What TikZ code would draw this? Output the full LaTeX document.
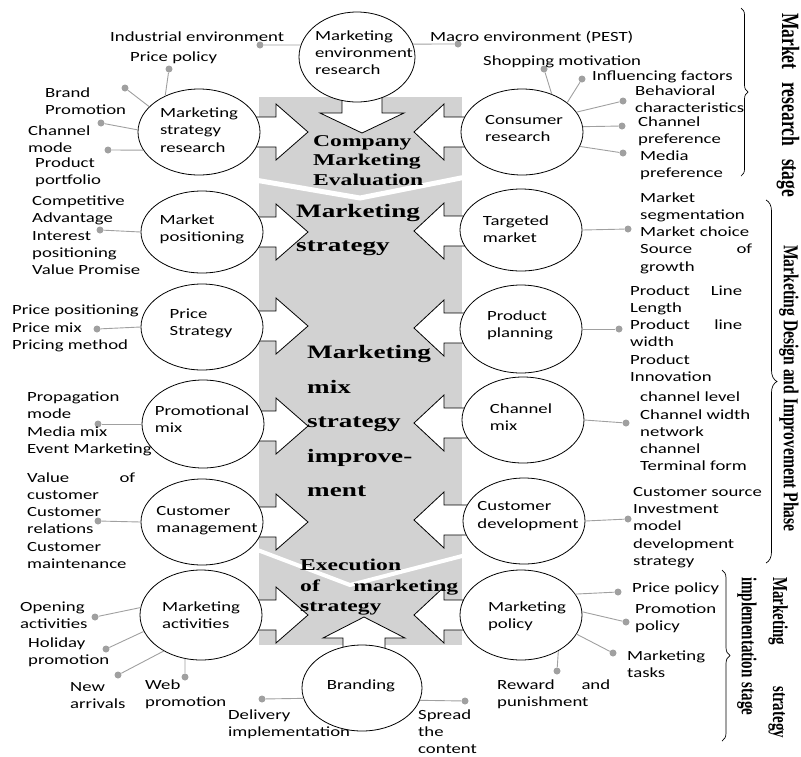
\documentclass[tikz,border=0pt]{standalone}
\usepackage{fontspec}
\usetikzlibrary{shapes.geometric,decorations.pathreplacing}

\newfontfamily\labelfont{Carlito}[FakeStretch=1.34]
\newfontfamily\stagefont{Liberation Serif}[FakeStretch=1.43]
\newfontfamily\sidefont{Liberation Serif}

\definecolor{bandgray}{RGB}{210,210,210}
\definecolor{dotgray}{RGB}{160,160,160}

\tikzset{
  circ/.style={ellipse, draw, fill=white, line width=0.8pt, minimum width=122pt, minimum height=86pt, inner sep=0pt},
  intext/.style={inner sep=0pt, align=left, font=\labelfont\fontsize{14}{17.3}\selectfont},
  lab/.style={anchor=west, inner sep=0pt, align=left, font=\labelfont\fontsize{14}{17.3}\selectfont},
  greydot/.style={circle, fill=dotgray, inner sep=0pt, minimum size=7pt},
  leader/.style={draw=dotgray, line width=0.9pt},
  blockarrow/.style={draw, fill=white, line width=0.8pt},
  stage/.style={anchor=west, inner sep=0pt, align=left},
  side/.style={inner sep=0pt, align=left},
  bracepen/.style={decorate, line width=0.7pt}
}

% block arrows into the band, #1 = row height
\newcommand\rowarrowR[1]{\draw[blockarrow] (250,#1-15) -- (276,#1-15) -- (276,#1-28) -- (308,#1) -- (276,#1+28) -- (276,#1+15) -- (250,#1+15) -- cycle;}
\newcommand\rowarrowL[1]{\draw[blockarrow] (472,#1-15) -- (444,#1-15) -- (444,#1-28) -- (414,#1) -- (444,#1+28) -- (444,#1+15) -- (472,#1+15) -- cycle;}

\begin{document}
\begin{tikzpicture}[x=1pt,y=-1pt]
\useasboundingbox (0,0) rectangle (801,756);

% grey band
\fill[bandgray] (259,97) rectangle (462,645);
\draw[white, line width=5pt] (255,180) -- (360,198) -- (466,177);
\draw[white, line width=4pt] (255,549) -- (350,585) -- (466,555);

% arrows
\foreach \y in {132,232,326,426,522,615} \rowarrowR{\y};
\foreach \y in {132,231,328,423,520,615} \rowarrowL{\y};
\draw[blockarrow] (342,95) -- (342,113) -- (320,113) -- (362,133) -- (404,113) -- (382,113) -- (382,95) -- cycle;
\draw[blockarrow] (343,655) -- (343,638) -- (323,638) -- (364,617) -- (405,638) -- (385,638) -- (385,655) -- cycle;

% circles
\node[circ, minimum width=116pt, minimum height=90pt] (mer) at (357,57) {};
\node[circ] (msr) at (199,132) {};
\node[circ] (cr) at (522,132) {};
\node[circ, minimum height=82pt] (mp) at (202,232) {};
\node[circ, minimum height=82pt] (tm) at (521,230) {};
\node[circ] (ps) at (202,327) {};
\node[circ, minimum height=88pt] (pp) at (521,329) {};
\node[circ, minimum height=88pt] (pm) at (203,424) {};
\node[circ] (cm) at (523,420) {};
\node[circ] (cum) at (202,522) {};
\node[circ] (cd) at (524,521) {};
\node[circ, minimum height=90pt] (ma) at (201,615) {};
\node[circ, minimum height=90pt] (mpol) at (521,615) {};
\node[circ, minimum width=120pt] (br) at (362,688) {};

\node[intext] (mer-t) at (364,52.5) {Marketing\\environment\\research};
\node[intext] (msr-t) at (199,130) {Marketing\\strategy\\research};
\node[intext] (cr-t) at (524,128.5) {Consumer\\research};
\node[intext] (mp-t) at (202,229.5) {Market\\positioning};
\node[intext] (tm-t) at (516,229.5) {Targeted\\market};
\node[intext] (ps-t) at (201,323.5) {Price\\Strategy};
\node[intext] (pp-t) at (520,325.5) {Product\\planning};
\node[intext] (pm-t) at (202,419) {Promotional\\mix};
\node[intext] (cm-t) at (521,417) {Channel\\mix};
\node[intext] (cum-t) at (207,521) {Customer\\management};
\node[intext] (cd-t) at (528,516) {Customer\\development};
\node[intext] (ma-t) at (201,615) {Marketing\\activities};
\node[intext] (mpol-t) at (527,616.5) {Marketing\\policy};
\node[intext] (br-t) at (361,686) {Branding};

% dots and leaders
\node[greydot] (dInd) at (260,45) {};   \draw[leader] (dInd) -- (mer.168);
\node[greydot] (dMac) at (458,44) {};   \draw[leader] (dMac) -- (mer.13);
\node[greydot] (dPri) at (169,69) {};   \draw[leader] (dPri) -- (msr.133);
\node[greydot] (dBra) at (125,88) {};   \draw[leader] (dBra) -- (msr.153);
\node[greydot] (dCha) at (101,123) {};  \draw[leader] (dCha) -- (msr.178);
\node[greydot] (dPro) at (108,150) {};  \draw[leader] (dPro) -- (msr.198);
\node[greydot] (dSho) at (544,69) {};   \draw[leader] (dSho) -- (cr.52);
\node[greydot] (dInf) at (582,79) {};   \draw[leader] (dInf) -- (cr.33);
\node[greydot] (dBeh) at (623,101) {};  \draw[leader] (dBeh) -- (cr.20);
\node[greydot] (dChp) at (622,126) {};  \draw[leader] (dChp) -- (cr.5);
\node[greydot] (dMed) at (623,153) {};  \draw[leader] (dMed) -- (cr.346);
\node[greydot] (dMp) at (100,230) {};   \draw[leader] (dMp) -- (mp.180);
\node[greydot] (dTm) at (628,229) {};   \draw[leader] (dTm) -- (tm.0);
\node[greydot] (dPs) at (97,329) {};    \draw[leader] (dPs) -- (ps.180);
\node[greydot] (dPp) at (619,329) {};   \draw[leader] (dPp) -- (pp.0);
\node[greydot] (dPm) at (98,424) {};    \draw[leader] (dPm) -- (pm.180);
\node[greydot] (dCm) at (626,423) {};   \draw[leader] (dCm) -- (cm.0);
\node[greydot] (dCum) at (98,521) {};   \draw[leader] (dCum) -- (cum.180);
\node[greydot] (dCd) at (628,519) {};   \draw[leader] (dCd) -- (cd.0);
\node[greydot] (dOpe) at (95,617) {};   \draw[leader] (dOpe) -- (ma.173);
\node[greydot] (dHol) at (106,649) {};  \draw[leader] (dHol) -- (ma.196);
\node[greydot] (dNew) at (118,675) {};  \draw[leader] (dNew) -- (ma.224);
\node[greydot] (dWeb) at (185,677) {};  \draw[leader] (dWeb) -- (ma.250);
\node[greydot] (dDel) at (262,699) {};  \draw[leader] (dDel) -- (br.190);
\node[greydot] (dSpr) at (465,701) {};  \draw[leader] (dSpr) -- (br.348);
\node[greydot] (dPpo) at (618,592) {};  \draw[leader] (dPpo) -- (mpol.21);
\node[greydot] (dPrp) at (626,622) {};  \draw[leader] (dPrp) -- (mpol.3);
\node[greydot] (dTas) at (613,653) {};  \draw[leader] (dTas) -- (mpol.341);
\node[greydot] (dRew) at (557,671) {};  \draw[leader] (dRew) -- (mpol.316);

% outer labels
\node[lab] (tInd) at (110,37) {Industrial environment};
\node[lab] (tMac) at (430,37) {Macro environment (PEST)};
\node[lab] (tPri) at (130,58) {Price policy};
\node[lab] (tBra) at (45,101.5) {Brand\\Promotion};
\node[lab] (tCha) at (28,139.5) {Channel\\mode};
\node[lab] (tPro) at (35,172) {Product\\portfolio};
\node[lab] (tSho) at (483,62) {Shopping motivation};
\node[lab] (tInf) at (592,77) {Influencing factors};
\node[lab] (tBeh) at (635,99) {Behavioral\\characteristics};
\node[lab] (tChp) at (638,131) {Channel\\preference};
\node[lab] (tMed) at (640,165.5) {Media\\preference};
\node[lab] (tMp) at (32,235.5) {Competitive\\Advantage\\Interest\\positioning\\Value Promise};
\node[lab, text width=112pt] (tTm) at (640,233) {Market\\segmentation\\Market choice\\Source\hfill of\\growth};
\node[lab] (tPs) at (12,328.5) {Price positioning\\Price mix\\Pricing method};
\node[lab, text width=112pt] (tPp) at (630,333.5) {Product\hfill Line\\Length\\Product\hfill line\\width\\Product\\Innovation};
\node[lab] (tPm) at (27,424) {Propagation\\mode\\Media mix\\Event Marketing};
\node[lab] (tCm) at (640,431.5) {channel level\\Channel width\\network\\channel\\Terminal form};
\node[lab, text width=108pt] (tCum) at (27,520.5) {Value\hfill of\\customer\\Customer\\relations\\Customer\\maintenance};
\node[lab] (tCd) at (633,527.5) {Customer source\\Investment\\model\\development\\strategy};
\node[lab] (tOpe) at (20,615.5) {Opening\\activities};
\node[lab] (tHol) at (28,652.5) {Holiday\\promotion};
\node[lab] (tNew) at (70,695.5) {New\\arrivals};
\node[lab] (tWeb) at (145,694.5) {Web\\promotion};
\node[lab] (tDel) at (228,724.5) {Delivery\\implementation};
\node[lab] (tSpr) at (418,731.5) {Spread\\the\\content};
\node[lab] (tPpo) at (632,589) {Price policy};
\node[lab] (tPrp) at (635,618) {Promotion\\policy};
\node[lab] (tTas) at (627,664.5) {Marketing\\tasks};
\node[lab, text width=113pt] (tRew) at (497,694.5) {Reward\hfill and\\punishment};

% band texts
\node[stage, font=\stagefont\bfseries\fontsize{16.5}{19.5}\selectfont] (tEval) at (313,160.5) {Company\\Marketing\\Evaluation};
\node[stage, font=\stagefont\bfseries\fontsize{19}{34}\selectfont] (tStrat) at (296,230) {Marketing\\strategy};
\node[stage, font=\stagefont\bfseries\fontsize{19}{34.5}\selectfont] (tMix) at (307,421) {Marketing\\mix\\strategy\\improve-\\ment};
\node[stage, text width=158pt, font=\stagefont\bfseries\fontsize{16.5}{20.5}\selectfont] (tExec) at (300,587.5) {Execution\\of\hfill marketing\\strategy};

% stage braces
\draw[bracepen, decoration={brace, amplitude=7pt}] (741,8) -- (741,176);
\draw[bracepen, decoration={brace, amplitude=11pt}] (766,200) -- (766,563);
\draw[bracepen, decoration={brace, amplitude=8pt}] (722,570) -- (722,741);

\node[side, text width=184pt, font=\sidefont\bfseries\fontsize{17.5}{20}\selectfont, xscale=1.42, rotate=-90] (tMrs) at (788,105) {Market\hfill research\hfill stage};
\node[side, font=\sidefont\bfseries\fontsize{15.6}{20}\selectfont, xscale=1.36, rotate=-90] (tMdi) at (789,388.5) {Marketing Design and Improvement Phase};
\node[side, text width=161pt, font=\sidefont\bfseries\fontsize{15}{22}\selectfont, xscale=1.42, rotate=-90] (tMsi) at (762.5,657.5) {Marketing\hfill strategy\\implementation stage};
\end{tikzpicture}
\end{document}
